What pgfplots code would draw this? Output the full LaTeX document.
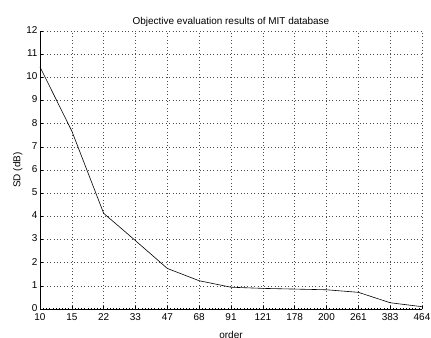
\documentclass[border=0pt]{standalone}
\usepackage{pgfplots}
\pgfplotsset{compat=1.18}
\usepackage{fontspec}
\setmainfont{Liberation Sans}
\begin{document}
\begin{tikzpicture}[x=1bp,y=1bp]
\begin{axis}[
  scale only axis,
  width=382bp, height=278bp,
  xmin=0, xmax=12, ymin=0, ymax=12,
  xtick={0,...,12},
  xticklabels={10,15,22,33,47,68,91,121,178,200,261,383,464},
  ytick={0,...,12},
  axis x line*=bottom, axis y line*=left,
  axis line style={-, black, line width=0.6pt},
  tick align=inside,
  major tick length=3bp,
  minor x tick num=9,
  minor tick length=1.5bp,
  tick style={black, line width=0.4pt},
  grid=major,
  major grid style={dash pattern=on 0.6bp off 2.8bp, black!70, line width=0.5pt},
  font=\fontsize{10}{12}\selectfont,
  /pgf/number format/assume math mode=true,
  xticklabel style={yshift=-1.5bp},
  yticklabel style={xshift=1bp, yshift=1bp},
  title={Objective evaluation results of MIT database},
  title style={font=\fontsize{10}{12}\selectfont, yshift=-5bp},
  xlabel={order},
  ylabel={SD (dB)},
  xlabel style={yshift=-3bp},
  ylabel style={yshift=-3bp},
  clip=false,
]
\addplot[black, line width=0.6pt] coordinates {
(0,10.45) (1,7.68) (2,4.13) (3,2.95) (4,1.75) (5,1.22) (6,0.94) (7,0.89) (8,0.86) (9,0.83) (10,0.72) (11,0.27) (12,0.10)
};
\end{axis}
\pgfresetboundingbox
\useasboundingbox ([shift={(-40bp,-29bp)}]current axis.south west) rectangle ([shift={(9bp,31bp)}]current axis.north east);
\end{tikzpicture}
\end{document}
